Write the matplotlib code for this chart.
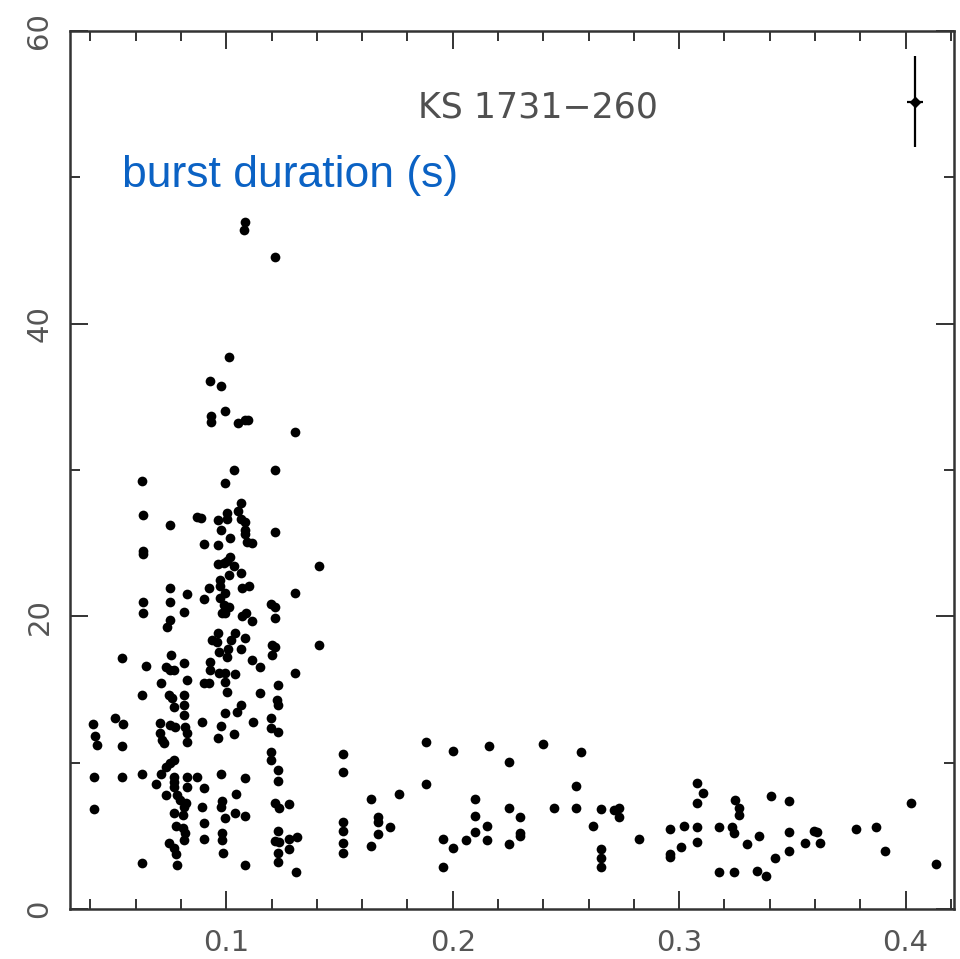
import numpy as np
import matplotlib.pyplot as plt
from matplotlib.ticker import MultipleLocator

# burst points: x value, burst duration (s)
x = [0.0413, 0.0422, 0.0430, 0.0417, 0.0417, 0.0510, 0.0545, 0.0541, 0.0541, 0.0541,
     0.0629, 0.0629, 0.0629, 0.0647, 0.0629, 0.0634, 0.0634, 0.0634, 0.0634, 0.0634,
     0.0753, 0.0753, 0.0753, 0.0753, 0.0740, 0.0757, 0.0828, 0.0815, 0.0815, 0.0872,
     0.0890, 0.0735, 0.0753, 0.0770,
     0.1035, 0.1216, 0.0996, 0.1066, 0.1053, 0.1004, 0.0965, 0.1004, 0.1066, 0.1084,
     0.0978, 0.1084, 0.1216, 0.1084, 0.1018, 0.0903, 0.0965, 0.1093, 0.1115, 0.1018,
     0.0965, 0.0991, 0.1004, 0.1035, 0.1013, 0.1066, 0.0974, 0.0974, 0.0925, 0.1071,
     0.1102, 0.0996, 0.0903, 0.0974, 0.1305, 0.0991, 0.1013, 0.1199, 0.1216, 0.0996,
     0.0982, 0.1216, 0.1071, 0.1088, 0.1115, 0.0965, 0.0938, 0.0960, 0.1040, 0.1022,
     0.1084, 0.0969, 0.1009, 0.1066, 0.1203, 0.1216, 0.1203, 0.1004, 0.0929, 0.1115,
     0.1150, 0.0929, 0.0969, 0.0996, 0.1040, 0.1305,
     0.0903, 0.0925, 0.0996, 0.1004, 0.1230, 0.1150, 0.1225, 0.1230, 0.1066, 0.1049,
     0.0996, 0.0894, 0.0978, 0.1119, 0.1199, 0.1199, 0.1230, 0.0965, 0.1035, 0.1199,
     0.1199, 0.1230, 0.1230, 0.0872, 0.0978, 0.1084, 0.0903, 0.1044, 0.0982, 0.0978,
     0.0894, 0.0996, 0.1040, 0.1084, 0.1216, 0.1234, 0.1278, 0.0903, 0.0903, 0.0982,
     0.0982, 0.1230, 0.1216, 0.1234, 0.1278, 0.1313, 0.1278, 0.1230, 0.1230, 0.0987,
     0.1084, 0.1309,
     0.0713, 0.0828, 0.0748, 0.0762, 0.0770, 0.0815, 0.0815, 0.0815, 0.0709, 0.0753,
     0.0775, 0.0709, 0.0819, 0.0828, 0.0717, 0.0726, 0.0828, 0.0770, 0.0753, 0.0735,
     0.0713, 0.0691, 0.0770, 0.0770, 0.0770, 0.0828, 0.0828, 0.0735, 0.0784, 0.0797,
     0.0823, 0.0815, 0.0770, 0.0810, 0.0779, 0.0810, 0.0819, 0.0815, 0.0748, 0.0770,
     0.0779, 0.0784,
     0.1013, 0.0929, 0.0978, 0.0996, 0.0934, 0.0934, 0.1053, 0.1084, 0.1097, 0.1305,
     0.1084, 0.1079, 0.1216, 0.1411, 0.1411,
     0.1517, 0.1517, 0.1517, 0.1517, 0.1517, 0.1517, 0.1640, 0.1640, 0.1671, 0.1671,
     0.1671, 0.1724, 0.1764, 0.1883, 0.1883, 0.1958, 0.1958, 0.2002, 0.2002, 0.2060,
     0.2099, 0.2099, 0.2099, 0.2152, 0.2152, 0.2161, 0.2249, 0.2249, 0.2249, 0.2298,
     0.2298, 0.2298, 0.2400, 0.2448, 0.2545, 0.2545, 0.2567, 0.2620, 0.2656, 0.2656,
     0.2656, 0.2656, 0.2713, 0.2735, 0.2735, 0.2823,
     0.2960, 0.2960, 0.2960, 0.3022, 0.3009, 0.3080, 0.3106, 0.3080, 0.3080, 0.3080,
     0.3177, 0.3177, 0.3234, 0.3243, 0.3243, 0.3247, 0.3265, 0.3265, 0.3300, 0.3353,
     0.3344, 0.3384, 0.3406, 0.3424, 0.3486, 0.3486, 0.3486, 0.3556, 0.3596, 0.3609,
     0.3623, 0.3781, 0.3870, 0.3909, 0.4024, 0.4135]
y = [12.65, 11.83, 11.22, 9.03, 6.84, 13.06, 12.65, 11.15, 9.03, 17.17,
     14.64, 9.23, 3.15, 16.62, 29.21, 26.95, 24.49, 24.28, 21.00, 20.25,
     26.27, 21.96, 21.00, 19.77, 19.29, 17.37, 21.55, 20.31, 16.83, 26.81,
     26.74, 16.55, 16.35, 16.35,
     29.96, 29.96, 29.14, 27.77, 27.22, 27.09, 26.61, 26.68, 26.68, 26.47,
     25.92, 25.92, 25.79, 25.65, 25.38, 24.97, 24.90, 25.10, 25.03, 24.08,
     23.60, 23.67, 23.80, 23.46, 22.85, 22.98, 22.50, 22.09, 21.96, 21.96,
     22.09, 21.61, 21.20, 21.27, 21.61, 20.79, 20.66, 20.86, 20.66, 20.25,
     20.25, 19.90, 20.04, 20.25, 19.70, 18.88, 18.40, 18.26, 18.88, 18.40,
     18.54, 17.58, 17.78, 17.78, 18.06, 17.92, 17.37, 17.24, 16.89, 17.03,
     16.55, 16.35, 16.14, 16.14, 16.07, 16.14,
     15.46, 15.46, 15.53, 14.84, 15.32, 14.77, 14.30, 13.95, 13.95, 13.47,
     13.41, 12.79, 12.52, 12.79, 13.06, 12.38, 12.11, 11.70, 11.97, 10.74,
     10.19, 9.51, 8.76, 9.03, 9.23, 8.96, 8.28, 7.87, 7.39, 6.98,
     6.98, 6.22, 6.57, 6.36, 7.25, 6.91, 7.18, 5.88, 4.79, 5.20,
     4.72, 5.34, 4.65, 4.58, 4.79, 4.92, 4.10, 3.83, 3.21, 3.83,
     3.01, 2.53,
     15.46, 15.66, 14.64, 14.43, 13.82, 14.64, 13.95, 13.27, 12.72, 12.59,
     12.45, 12.04, 12.45, 12.04, 11.56, 11.35, 11.42, 10.19, 9.99, 9.71,
     9.23, 8.55, 9.03, 8.69, 8.34, 9.03, 8.34, 7.80, 7.80, 7.46,
     7.25, 6.98, 6.57, 6.43, 5.68, 5.54, 5.20, 4.72, 4.51, 4.17,
     3.76, 3.01,
     37.69, 36.05, 35.70, 33.99, 33.65, 33.24, 33.17, 33.38, 33.38, 32.56,
     46.92, 46.38, 44.53, 23.46, 18.06,
     10.60, 9.37, 5.95, 5.34, 4.51, 3.83, 7.52, 4.31, 6.29, 5.95,
     5.13, 5.61, 7.87, 11.42, 8.55, 4.79, 2.87, 10.81, 4.17, 4.72,
     7.52, 6.36, 5.27, 5.68, 4.72, 11.15, 10.05, 6.91, 4.45, 6.29,
     5.20, 4.99, 11.29, 6.91, 8.41, 6.91, 10.74, 5.68, 6.84, 4.10,
     3.49, 2.87, 6.77, 6.91, 6.29, 4.79,
     5.47, 3.76, 3.56, 5.68, 4.24, 8.62, 7.93, 7.25, 5.61, 4.58,
     5.61, 2.53, 5.61, 5.20, 2.53, 7.46, 6.91, 6.43, 4.45, 4.99,
     2.60, 2.26, 7.73, 3.49, 7.39, 5.27, 3.97, 4.51, 5.34, 5.27,
     4.51, 5.47, 5.61, 3.97, 7.25, 3.08]

# typical error bar
err_x, err_y = 0.4042, 55.15
err_dx, err_dy = 0.0037, 3.12

fig = plt.figure(figsize=(9.6, 9.59), dpi=100)
ax = fig.add_axes([0.073, 0.052, 0.921, 0.916])

ax.plot(x, y, 'o', ms=7, color='black', mec='none')
ax.errorbar(err_x, err_y, xerr=err_dx, yerr=err_dy, fmt='D', ms=5, color='black',
            elinewidth=1.6, capsize=0)

ax.set_xlim(0.031, 0.4215)
ax.set_ylim(0, 60)
ax.xaxis.set_minor_locator(MultipleLocator(0.02))
ax.yaxis.set_major_locator(MultipleLocator(20))
ax.yaxis.set_minor_locator(MultipleLocator(10))
ax.set_xticks([0.1, 0.2, 0.3, 0.4])
ax.set_xticklabels(['0.1', '0.2', '0.3', '0.4'])

ax.tick_params(which='both', direction='in', top=True, right=True, color='#333333',
               labelcolor='#555555', labelsize=21, width=1.4)
ax.tick_params(which='major', length=13, pad=12)
ax.tick_params(which='minor', length=7)
ax.tick_params(axis='x', pad=14)
for lab in ax.get_yticklabels():
    lab.set_rotation(90)
    lab.set_va('center')
for sp in ax.spines.values():
    sp.set_linewidth(1.8)
    sp.set_color('#333333')

fig.text(418 / 960, 1 - 117 / 959, 'KS 1731\u2212260', fontsize=25, color='#505050',
         ha='left', va='baseline')
fig.text(122 / 960, 1 - 187 / 959, 'burst duration (s)', fontsize=32, color='#0b62c4',
         family=['Liberation Sans', 'DejaVu Sans'], ha='left', va='baseline')

fig.savefig('out.png', dpi=100)
